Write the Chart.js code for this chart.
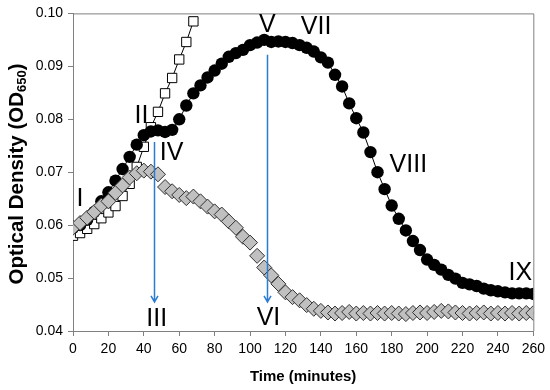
<!DOCTYPE html>
<html>
<head>
<meta charset="utf-8">
<script src="https://cdn.jsdelivr.net/npm/chart.js@4"></script>
<style>
  html, body { margin: 0; padding: 0; background: #fff; }
  #wrap { width: 550px; height: 390px; }
</style>
</head>
<body>
<div id="wrap"><canvas id="chart"></canvas></div>
<script>
// sampling times (minutes)
const times = [0, 4, 8, 12, 16, 20, 24, 28, 32, 36, 40, 44, 48, 52, 56, 60, 64, 68, 72, 76,
  80, 84, 88, 92, 96, 100, 104, 108, 112, 116, 120, 124, 128, 132, 136, 140, 144, 148, 152, 156,
  160, 164, 168, 172, 176, 180, 184, 188, 192, 196, 200, 204, 208, 212, 216, 220, 224, 228, 232, 236,
  240, 244, 248, 252, 256, 260];

// black circles
const odCircles = [0.0595, 0.0600, 0.0610, 0.0625, 0.0645, 0.0662, 0.0684, 0.0706, 0.0729, 0.0752,
  0.0770, 0.0777, 0.0779, 0.0776, 0.0780, 0.0800, 0.0826, 0.0849, 0.0864, 0.0879,
  0.0892, 0.0905, 0.0918, 0.0925, 0.0931, 0.0940, 0.0945, 0.0950, 0.0946, 0.0947,
  0.0946, 0.0944, 0.0940, 0.0935, 0.0928, 0.0917, 0.0907, 0.0884, 0.0862, 0.0830,
  0.0802, 0.0775, 0.0738, 0.0700, 0.0668, 0.0637, 0.0612, 0.0590, 0.0570, 0.0553,
  0.0535, 0.0525, 0.0516, 0.0506, 0.0499, 0.0491, 0.0488, 0.0485, 0.0480, 0.0477,
  0.0475, 0.0473, 0.0471, 0.0471, 0.0471, 0.0470];

// grey diamonds
const odDiamonds = [0.0595, 0.0604, 0.0614, 0.0625, 0.0637, 0.0645, 0.0661, 0.0675, 0.0690, 0.0698,
  0.0703, 0.0701, 0.0696, 0.0672, 0.0664, 0.0657, 0.0651, 0.0654, 0.0645, 0.0635,
  0.0626, 0.0620, 0.0607, 0.0595, 0.0578, 0.0567, 0.0542, 0.0520, 0.0505, 0.0489,
  0.0473, 0.0464, 0.0458, 0.0449, 0.0442, 0.0438, 0.0435, 0.0433, 0.0434, 0.0436,
  0.0433, 0.0434, 0.0433, 0.0434, 0.0433, 0.0434, 0.0433, 0.0432, 0.0434, 0.0435,
  0.0434, 0.0436, 0.0438, 0.0437, 0.0435, 0.0434, 0.0433, 0.0434, 0.0435, 0.0433,
  0.0434, 0.0433, 0.0434, 0.0433, 0.0434, 0.0434];

// open squares (only up to ~68 min)
const squareTimes = [0, 4, 8, 12, 16, 20, 24, 28, 32, 36, 40, 44, 48, 52, 56, 60, 64, 68];
const odSquares = [0.0580, 0.0585, 0.0593, 0.0602, 0.0613, 0.0624, 0.0636, 0.0655, 0.0678, 0.0710,
  0.0748, 0.0785, 0.0814, 0.0849, 0.0878, 0.0913, 0.0946, 0.0985];

// roman-numeral labels: text, time, OD
const labelText = ['I', 'II', 'III', 'IV', 'V', 'VI', 'VII', 'VIII', 'IX'];
const labelTime = [3.9, 38.7, 47.3, 55.7, 109.8, 110.4, 137.3, 189.4, 252.7];
const labelOD = [0.0650, 0.0806, 0.0422, 0.0736, 0.0978, 0.0424, 0.0974, 0.0714, 0.0509];

// blue arrows: time, from OD, to OD
const arrowTime = [46, 109.4];
const arrowFrom = [0.0757, 0.0922];
const arrowTo = [0.0455, 0.0455];

const toPts = (xs, ys) => xs.map((x, i) => ({ x: x, y: ys[i] }));

const extras = {
  id: 'extras',
  afterDatasetsDraw(chart) {
    const { ctx, chartArea: a, scales: { x, y } } = chart;
    ctx.save();
    // box round the plot
    ctx.strokeStyle = '#808080';
    ctx.lineWidth = 1;
    ctx.beginPath();
    ctx.moveTo(a.left, a.top + 0.5);
    ctx.lineTo(a.right + 0.5, a.top + 0.5);
    ctx.lineTo(a.right + 0.5, a.bottom);
    ctx.stroke();

    // arrows
    ctx.strokeStyle = '#2a7bd5';
    ctx.lineWidth = 1.5;
    arrowTime.forEach((t, i) => {
      const px = Math.round(x.getPixelForValue(t)) + 0.5;
      const y0 = y.getPixelForValue(arrowFrom[i]);
      const y1 = y.getPixelForValue(arrowTo[i]);
      ctx.beginPath();
      ctx.moveTo(px, y0);
      ctx.lineTo(px, y1);
      ctx.moveTo(px - 3.5, y1 - 6);
      ctx.lineTo(px, y1);
      ctx.lineTo(px + 3.5, y1 - 6);
      ctx.stroke();
    });

    // numerals
    ctx.fillStyle = '#000';
    ctx.font = '25px "Liberation Sans", Arial, sans-serif';
    ctx.textAlign = 'center';
    ctx.textBaseline = 'middle';
    labelText.forEach((s, i) => {
      ctx.fillText(s, x.getPixelForValue(labelTime[i]), y.getPixelForValue(labelOD[i]));
    });

    // y axis title with subscript
    const main = 'Optical Density (OD';
    const sub = '650';
    const end = ')';
    const big = 'bold 20.5px "Liberation Sans", Arial, sans-serif';
    const small = 'bold 13px "Liberation Sans", Arial, sans-serif';
    ctx.font = big;
    const w1 = ctx.measureText(main).width;
    const w3 = ctx.measureText(end).width;
    ctx.font = small;
    const w2 = ctx.measureText(sub).width;
    const total = w1 + w2 + w3;
    ctx.translate(17, 174);
    ctx.rotate(-Math.PI / 2);
    ctx.textAlign = 'left';
    ctx.textBaseline = 'middle';
    let cx = -total / 2;
    ctx.font = big;
    ctx.fillText(main, cx, 0);
    cx += w1;
    ctx.font = small;
    ctx.fillText(sub, cx, 5);
    cx += w2;
    ctx.font = big;
    ctx.fillText(end, cx, 0);
    ctx.restore();
  }
};

new Chart(document.getElementById('chart'), {
  type: 'line',
  data: {
    datasets: [
      {
        data: toPts(times, odDiamonds),
        showLine: false,
        pointStyle: 'rectRot',
        pointRadius: 7.5,
        pointBackgroundColor: '#c0c0c0',
        pointBorderColor: '#303030',
        pointBorderWidth: 1
      },
      {
        data: toPts(times, odCircles),
        borderColor: '#000',
        borderWidth: 1,
        pointStyle: 'circle',
        pointRadius: 6.2,
        pointBackgroundColor: '#000',
        pointBorderColor: '#000',
        pointBorderWidth: 0
      },
      {
        data: toPts(squareTimes, odSquares),
        borderColor: '#000',
        borderWidth: 1,
        pointStyle: 'rect',
        pointRadius: 6.6,
        pointBackgroundColor: '#fff',
        pointBorderColor: '#000',
        pointBorderWidth: 1
      }
    ]
  },
  options: {
    responsive: true,
    maintainAspectRatio: false,
    animation: false,
    layout: { padding: { top: 10, right: 13, left: 0, bottom: 0 } },
    plugins: {
      legend: { display: false },
      tooltip: { enabled: false }
    },
    scales: {
      x: {
        type: 'linear',
        min: 0,
        max: 260,
        afterFit: s => { s.height = 59; },
        ticks: {
          stepSize: 20,
          color: '#000',
          padding: 5,
          font: { size: 14, family: '"Liberation Sans", Arial, sans-serif' }
        },
        grid: { drawOnChartArea: false, tickLength: 5, color: '#808080' },
        border: { color: '#808080' },
        title: {
          display: true,
          text: 'Time (minutes)',
          color: '#000',
          padding: { top: 5 },
          font: { size: 15, weight: 'bold', family: '"Liberation Sans", Arial, sans-serif' }
        }
      },
      y: {
        min: 0.04,
        max: 0.10,
        afterFit: s => { s.width = 73; },
        ticks: {
          stepSize: 0.01,
          color: '#000',
          padding: 5,
          font: { size: 14, family: '"Liberation Sans", Arial, sans-serif' },
          callback: v => v.toFixed(2)
        },
        grid: { drawOnChartArea: false, tickLength: 5, color: '#808080' },
        border: { color: '#808080' }
      }
    }
  },
  plugins: [extras]
});
</script>
</body>
</html>
